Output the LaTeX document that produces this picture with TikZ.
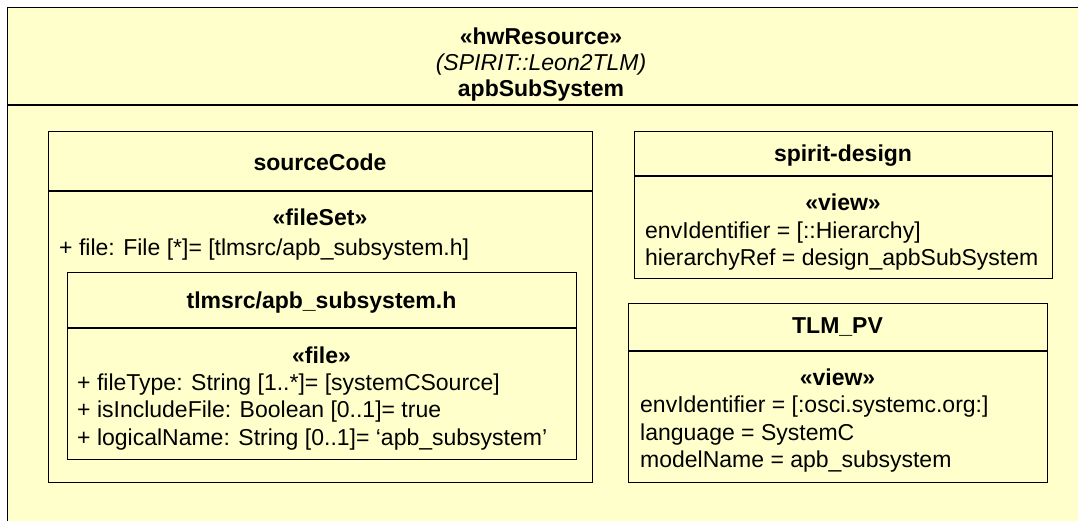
\documentclass[tikz,border=0pt]{standalone}
\usepackage{fontspec}
\setmainfont{Liberation Sans}
\definecolor{umlfill}{HTML}{FFFFCC}
\begin{document}
\begin{tikzpicture}[x=1pt,y=-1pt,
  umlbox/.style={draw=black, line width=1.4pt, fill=umlfill, inner sep=0pt, anchor=north west},
  sepline/.style={draw=black, line width=1.2pt},
  txt/.style={inner sep=0pt, font=\fontsize{23}{27}\selectfont},
  btxt/.style={txt, font=\fontsize{23}{27}\selectfont\bfseries},
  itxt/.style={txt, font=\fontsize{23}{27}\selectfont\itshape}]
\useasboundingbox (0,0) rectangle (1078,520);
\clip (0,0) rectangle (1078,520);
\fill[white] (0,0) rectangle (1078,520);
% outer component
\node[umlbox, minimum width=1090pt, minimum height=530pt] (outer) at (7,7) {};
\draw[sepline] ([yshift=-98pt]outer.north west) -- ([yshift=-98pt]outer.north east);
\node[btxt, anchor=base] (st) at (541,44) {«hwResource»};
\node[itxt, anchor=base] (ns) at (541,70) {(SPIRIT::Leon2TLM)};
\node[btxt, anchor=base] (nm) at (541,96) {apbSubSystem};
% sourceCode
\node[umlbox, minimum width=544pt, minimum height=351pt] (src) at (48,131) {};
\draw[sepline] ([yshift=-60pt]src.north west) -- ([yshift=-60pt]src.north east);
\node[btxt, anchor=base] (srct) at (320,170) {sourceCode};
\node[btxt, anchor=base] (srcs) at (320,225) {«fileSet»};
\node[txt, anchor=base west] (srca) at (59,255) {+ file: File [*]= [tlmsrc/apb\_subsystem.h]};
% file
\node[umlbox, minimum width=509pt, minimum height=187pt] (file) at (67,272) {};
\draw[sepline] ([yshift=-56pt]file.north west) -- ([yshift=-56pt]file.north east);
\node[btxt, anchor=base] (filet) at (321.5,308) {tlmsrc/apb\_subsystem.h};
\node[btxt, anchor=base] (files) at (321.5,363) {«file»};
\node[txt, anchor=base west] (filea) at (77,390) {+ fileType: String [1..*]= [systemCSource]};
\node[txt, anchor=base west] (fileb) at (77,417) {+ isIncludeFile: Boolean [0..1]= true};
\node[txt, anchor=base west] (filec) at (77,445) {+ logicalName: String [0..1]= ‘apb\_subsystem’};
% spirit-design
\node[umlbox, minimum width=418pt, minimum height=147pt] (sd) at (634,131) {};
\draw[sepline] ([yshift=-45pt]sd.north west) -- ([yshift=-45pt]sd.north east);
\node[btxt, anchor=base] (sdt) at (843,161) {spirit-design};
\node[btxt, anchor=base] (sds) at (843,210) {«view»};
\node[txt, anchor=base west] (sda) at (645,238) {envIdentifier = [::Hierarchy]};
\node[txt, anchor=base west] (sdb) at (645,265) {hierarchyRef = design\_apbSubSystem};
% TLM_PV
\node[umlbox, minimum width=419pt, minimum height=179pt] (tlm) at (628,303) {};
\draw[sepline] ([yshift=-48pt]tlm.north west) -- ([yshift=-48pt]tlm.north east);
\node[btxt, anchor=base] (tlmt) at (837.5,333) {TLM\_PV};
\node[btxt, anchor=base] (tlms) at (837.5,385) {«view»};
\node[txt, anchor=base west] (tlma) at (640,412) {envIdentifier = [:osci.systemc.org:]};
\node[txt, anchor=base west] (tlmb) at (640,440) {language = SystemC};
\node[txt, anchor=base west] (tlmc) at (640,467) {modelName = apb\_subsystem};
\end{tikzpicture}
\end{document}
